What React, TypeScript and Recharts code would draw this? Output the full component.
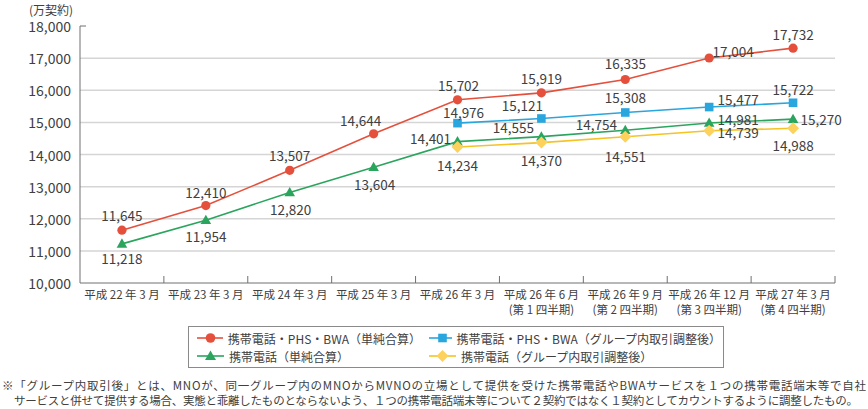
import React from 'react';
import { LineChart, Line, XAxis, YAxis, ReferenceLine, LabelList } from 'recharts';

// 時点
const periods = [
  '平成 22 年 3 月', '平成 23 年 3 月', '平成 24 年 3 月', '平成 25 年 3 月', '平成 26 年 3 月',
  '平成 26 年 6 月', '平成 26 年 9 月', '平成 26 年 12 月', '平成 27 年 3 月',
];
const quarters = ['', '', '', '', '', '(第 1 四半期)', '(第 2 四半期)', '(第 3 四半期)', '(第 4 四半期)'];

// 系列（万契約）— 描かれた位置から読み取り
const allSimple = [11645, 12410, 13507, 14644, 15702, 15919, 16335, 17004, 17310];
const allAdjusted = [null, null, null, null, 14976, 15121, 15308, 15477, 15610];
const phoneSimple = [11218, 11954, 12820, 13604, 14401, 14555, 14754, 14981, 15100];
const phoneAdjusted = [null, null, null, null, 14234, 14370, 14551, 14739, 14815];

// 図中の数値ラベル
const allSimpleLabels = ['11,645', '12,410', '13,507', '14,644', '15,702', '15,919', '16,335', '17,004', '17,732'];
const allAdjustedLabels = ['', '', '', '', '14,976', '15,121', '15,308', '15,477', '15,722'];
const phoneSimpleLabels = ['11,218', '11,954', '12,820', '13,604', '14,401', '14,555', '14,754', '14,981', '15,270'];
const phoneAdjustedLabels = ['', '', '', '', '14,234', '14,370', '14,551', '14,739', '14,988'];

const yTicks = [10000, 11000, 12000, 13000, 14000, 15000, 16000, 17000, 18000];
const gridValues = [11000, 12000, 13000, 14000, 15000, 16000, 17000];

const data = periods.map((period, i) => ({
  period,
  allSimple: allSimple[i],
  allAdjusted: allAdjusted[i],
  phoneSimple: phoneSimple[i],
  phoneAdjusted: phoneAdjusted[i],
}));

const FONT = '"Noto Sans CJK JP", "Noto Sans", sans-serif';
const TEXT = '#404040';
const AXIS = '#707070';
const RED = '#e5503c';
const BLUE = '#2aa6df';
const GREEN = '#2ba55e';
const YELLOW = '#f5c324';
const YELLOW_FILL = '#fcd25c';

// ラベルの位置ずらし [dx, dy]
const redOffsets = [[0, -15], [0, -14], [0, -15], [-13, -14], [1, -15], [0, -15], [0, -16], [24, -7], [0, -14]];
const blueOffsets = [[0, 0], [0, 0], [0, 0], [0, 0], [6, -11], [-19, -13], [0, -15], [29, -8], [0, -14]];
const greenOffsets = [[0, 14], [0, 16], [1, 17], [1, 17], [-27, -4], [-28, -10], [-29, -6], [29, -4], [28, 0]];
const yellowOffsets = [[0, 0], [0, 0], [0, 0], [0, 0], [0, 18], [0, 17], [0, 19], [29, 1], [0, 17]];

function makeLabel(texts: string[], offsets: number[][]) {
  return (props: any) => {
    const { x, y, index } = props;
    const t = texts[index];
    if (!t || x == null || y == null) return null;
    const [dx, dy] = offsets[index];
    return (
      <text x={x + dx} y={y + dy} textAnchor="middle" dominantBaseline="central"
        fontSize={13.5} fill={TEXT} fontFamily={FONT}>
        {t}
      </text>
    );
  };
}

const CircleDot = (props: any) => {
  const { cx, cy } = props;
  if (cx == null || cy == null) return null;
  return <circle cx={cx} cy={cy} r={4.6} fill={RED} />;
};
const SquareDot = (props: any) => {
  const { cx, cy } = props;
  if (cx == null || cy == null) return null;
  return <rect x={cx - 4.3} y={cy - 4.3} width={8.6} height={8.6} fill={BLUE} />;
};
const TriangleDot = (props: any) => {
  const { cx, cy } = props;
  if (cx == null || cy == null) return null;
  return <path d={`M${cx},${cy - 5.5} L${cx + 5.3},${cy + 3.8} L${cx - 5.3},${cy + 3.8} Z`} fill={GREEN} />;
};
const DiamondDot = (props: any) => {
  const { cx, cy } = props;
  if (cx == null || cy == null) return null;
  return <path d={`M${cx},${cy - 6} L${cx + 6},${cy} L${cx},${cy + 6} L${cx - 6},${cy} Z`} fill={YELLOW_FILL} />;
};

function PeriodTick(props: any) {
  const { x, y, payload, index } = props;
  const half = payload?.offset || 42;
  return (
    <g>
      {index > 0 && <line x1={x - half} x2={x - half} y1={y} y2={y - 7} stroke={AXIS} />}
      {index === periods.length - 1 && <line x1={x + half} x2={x + half} y1={y} y2={y - 7} stroke={AXIS} />}
      <text x={x} y={y + 11} textAnchor="middle" dominantBaseline="central" fontSize={11.5} fill={TEXT} fontFamily={FONT}>
        {periods[index]}
      </text>
      {quarters[index] && (
        <text x={x} y={y + 26} textAnchor="middle" dominantBaseline="central" fontSize={11.5} fill={TEXT} fontFamily={FONT}>
          {quarters[index]}
        </text>
      )}
    </g>
  );
}

function ValueTick(props: any) {
  const { x, y, payload } = props;
  return (
    <g>
      {payload.value === yTicks[yTicks.length - 1] && (
        <line x1={x + 9} x2={x + 15} y1={y} y2={y} stroke={AXIS} />
      )}
      <text x={x} y={y} textAnchor="end" dominantBaseline="central" fontSize={14} fill={TEXT} fontFamily={FONT}>
        {payload.value.toLocaleString('en-US')}
      </text>
    </g>
  );
}

function LegendIcon({ color, shape }: { color: string; shape: string }) {
  return (
    <svg width={27} height={12} style={{ marginRight: 5 }}>
      <line x1={0} x2={27} y1={6} y2={6} stroke={color} strokeWidth={1.6} />
      {shape === 'circle' && <circle cx={13.5} cy={6} r={4.8} fill={color} />}
      {shape === 'square' && <rect x={9.2} y={1.7} width={8.6} height={8.6} fill={color} />}
      {shape === 'triangle' && <path d="M13.5,0.5 L19,10 L8,10 Z" fill={color} />}
      {shape === 'diamond' && <path d="M13.5,0 L19.5,6 L13.5,12 L7.5,6 Z" fill={YELLOW_FILL} />}
    </svg>
  );
}

const legendItems = [
  { name: '携帯電話・PHS・BWA（単純合算）', color: RED, shape: 'circle' },
  { name: '携帯電話・PHS・BWA（グループ内取引調整後）', color: BLUE, shape: 'square' },
  { name: '携帯電話（単純合算）', color: GREEN, shape: 'triangle' },
  { name: '携帯電話（グループ内取引調整後）', color: YELLOW, shape: 'diamond' },
];

export default function App() {
  return (
    <div style={{ position: 'absolute', left: 0, top: 0, width: 868, height: 409, background: '#fff', fontFamily: FONT, color: TEXT, overflow: 'hidden' }}>
      <div style={{ position: 'absolute', left: 29, top: 3, fontSize: 12, lineHeight: '14px' }}>(万契約)</div>

      <div style={{ position: 'absolute', left: 0, top: 0 }}>
        <LineChart width={868} height={330} data={data} margin={{ top: 26, right: 33, left: 0, bottom: 0 }}>
          {gridValues.map((v) => (
            <ReferenceLine key={v} y={v} stroke="#d5d5d5" strokeWidth={1.5} />
          ))}
          <XAxis dataKey="period" scale="band" interval={0} height={47} tickLine={false} tickSize={0} tickMargin={0}
            axisLine={{ stroke: AXIS }} tick={<PeriodTick />} />
          <YAxis domain={[10000, 18000]} ticks={yTicks} width={80} tickLine={false} tickSize={0} tickMargin={9}
            axisLine={{ stroke: AXIS }} tick={<ValueTick />} interval={0} />
          <Line dataKey="allSimple" stroke={RED} strokeWidth={1.6} dot={<CircleDot />} activeDot={false} isAnimationActive={false}>
            <LabelList dataKey="allSimple" content={makeLabel(allSimpleLabels, redOffsets)} />
          </Line>
          <Line dataKey="allAdjusted" stroke={BLUE} strokeWidth={1.6} dot={<SquareDot />} activeDot={false} isAnimationActive={false}>
            <LabelList dataKey="allAdjusted" content={makeLabel(allAdjustedLabels, blueOffsets)} />
          </Line>
          <Line dataKey="phoneSimple" stroke={GREEN} strokeWidth={1.6} dot={<TriangleDot />} activeDot={false} isAnimationActive={false}>
            <LabelList dataKey="phoneSimple" content={makeLabel(phoneSimpleLabels, greenOffsets)} />
          </Line>
          <Line dataKey="phoneAdjusted" stroke={YELLOW} strokeWidth={1.6} dot={<DiamondDot />} activeDot={false} isAnimationActive={false}>
            <LabelList dataKey="phoneAdjusted" content={makeLabel(phoneAdjustedLabels, yellowOffsets)} />
          </Line>
        </LineChart>
      </div>

      {/* 凡例 */}
      <div style={{
        position: 'absolute', left: 188, top: 326, width: 534, height: 40, border: '1px solid #8a8a8a',
        display: 'grid', gridTemplateColumns: '232px 300px', alignContent: 'center', rowGap: 4, fontSize: 12,
      }}>
        {legendItems.map((item) => (
          <div key={item.name} style={{ display: 'flex', alignItems: 'center', paddingLeft: 8, height: 14, whiteSpace: 'nowrap' }}>
            <LegendIcon color={item.color} shape={item.shape} />
            <span>{item.name}</span>
          </div>
        ))}
      </div>

      {/* 注記 */}
      <svg width={868} height={40} style={{ position: 'absolute', left: 0, top: 372 }}>
        <text x={2} y={13} dominantBaseline="central" fontSize={11.5} fill={TEXT} fontFamily={FONT}
          textLength={864} lengthAdjust="spacing">
          ※「グループ内取引後」とは、MNOが、同一グループ内のMNOからMVNOの立場として提供を受けた携帯電話やBWAサービスを１つの携帯電話端末等で自社
        </text>
        <text x={14} y={28} dominantBaseline="central" fontSize={11.5} fill={TEXT} fontFamily={FONT}
          textLength={844} lengthAdjust="spacing">
          サービスと併せて提供する場合、実態と乖離したものとならないよう、１つの携帯電話端末等について２契約ではなく１契約としてカウントするように調整したもの。
        </text>
      </svg>
    </div>
  );
}
